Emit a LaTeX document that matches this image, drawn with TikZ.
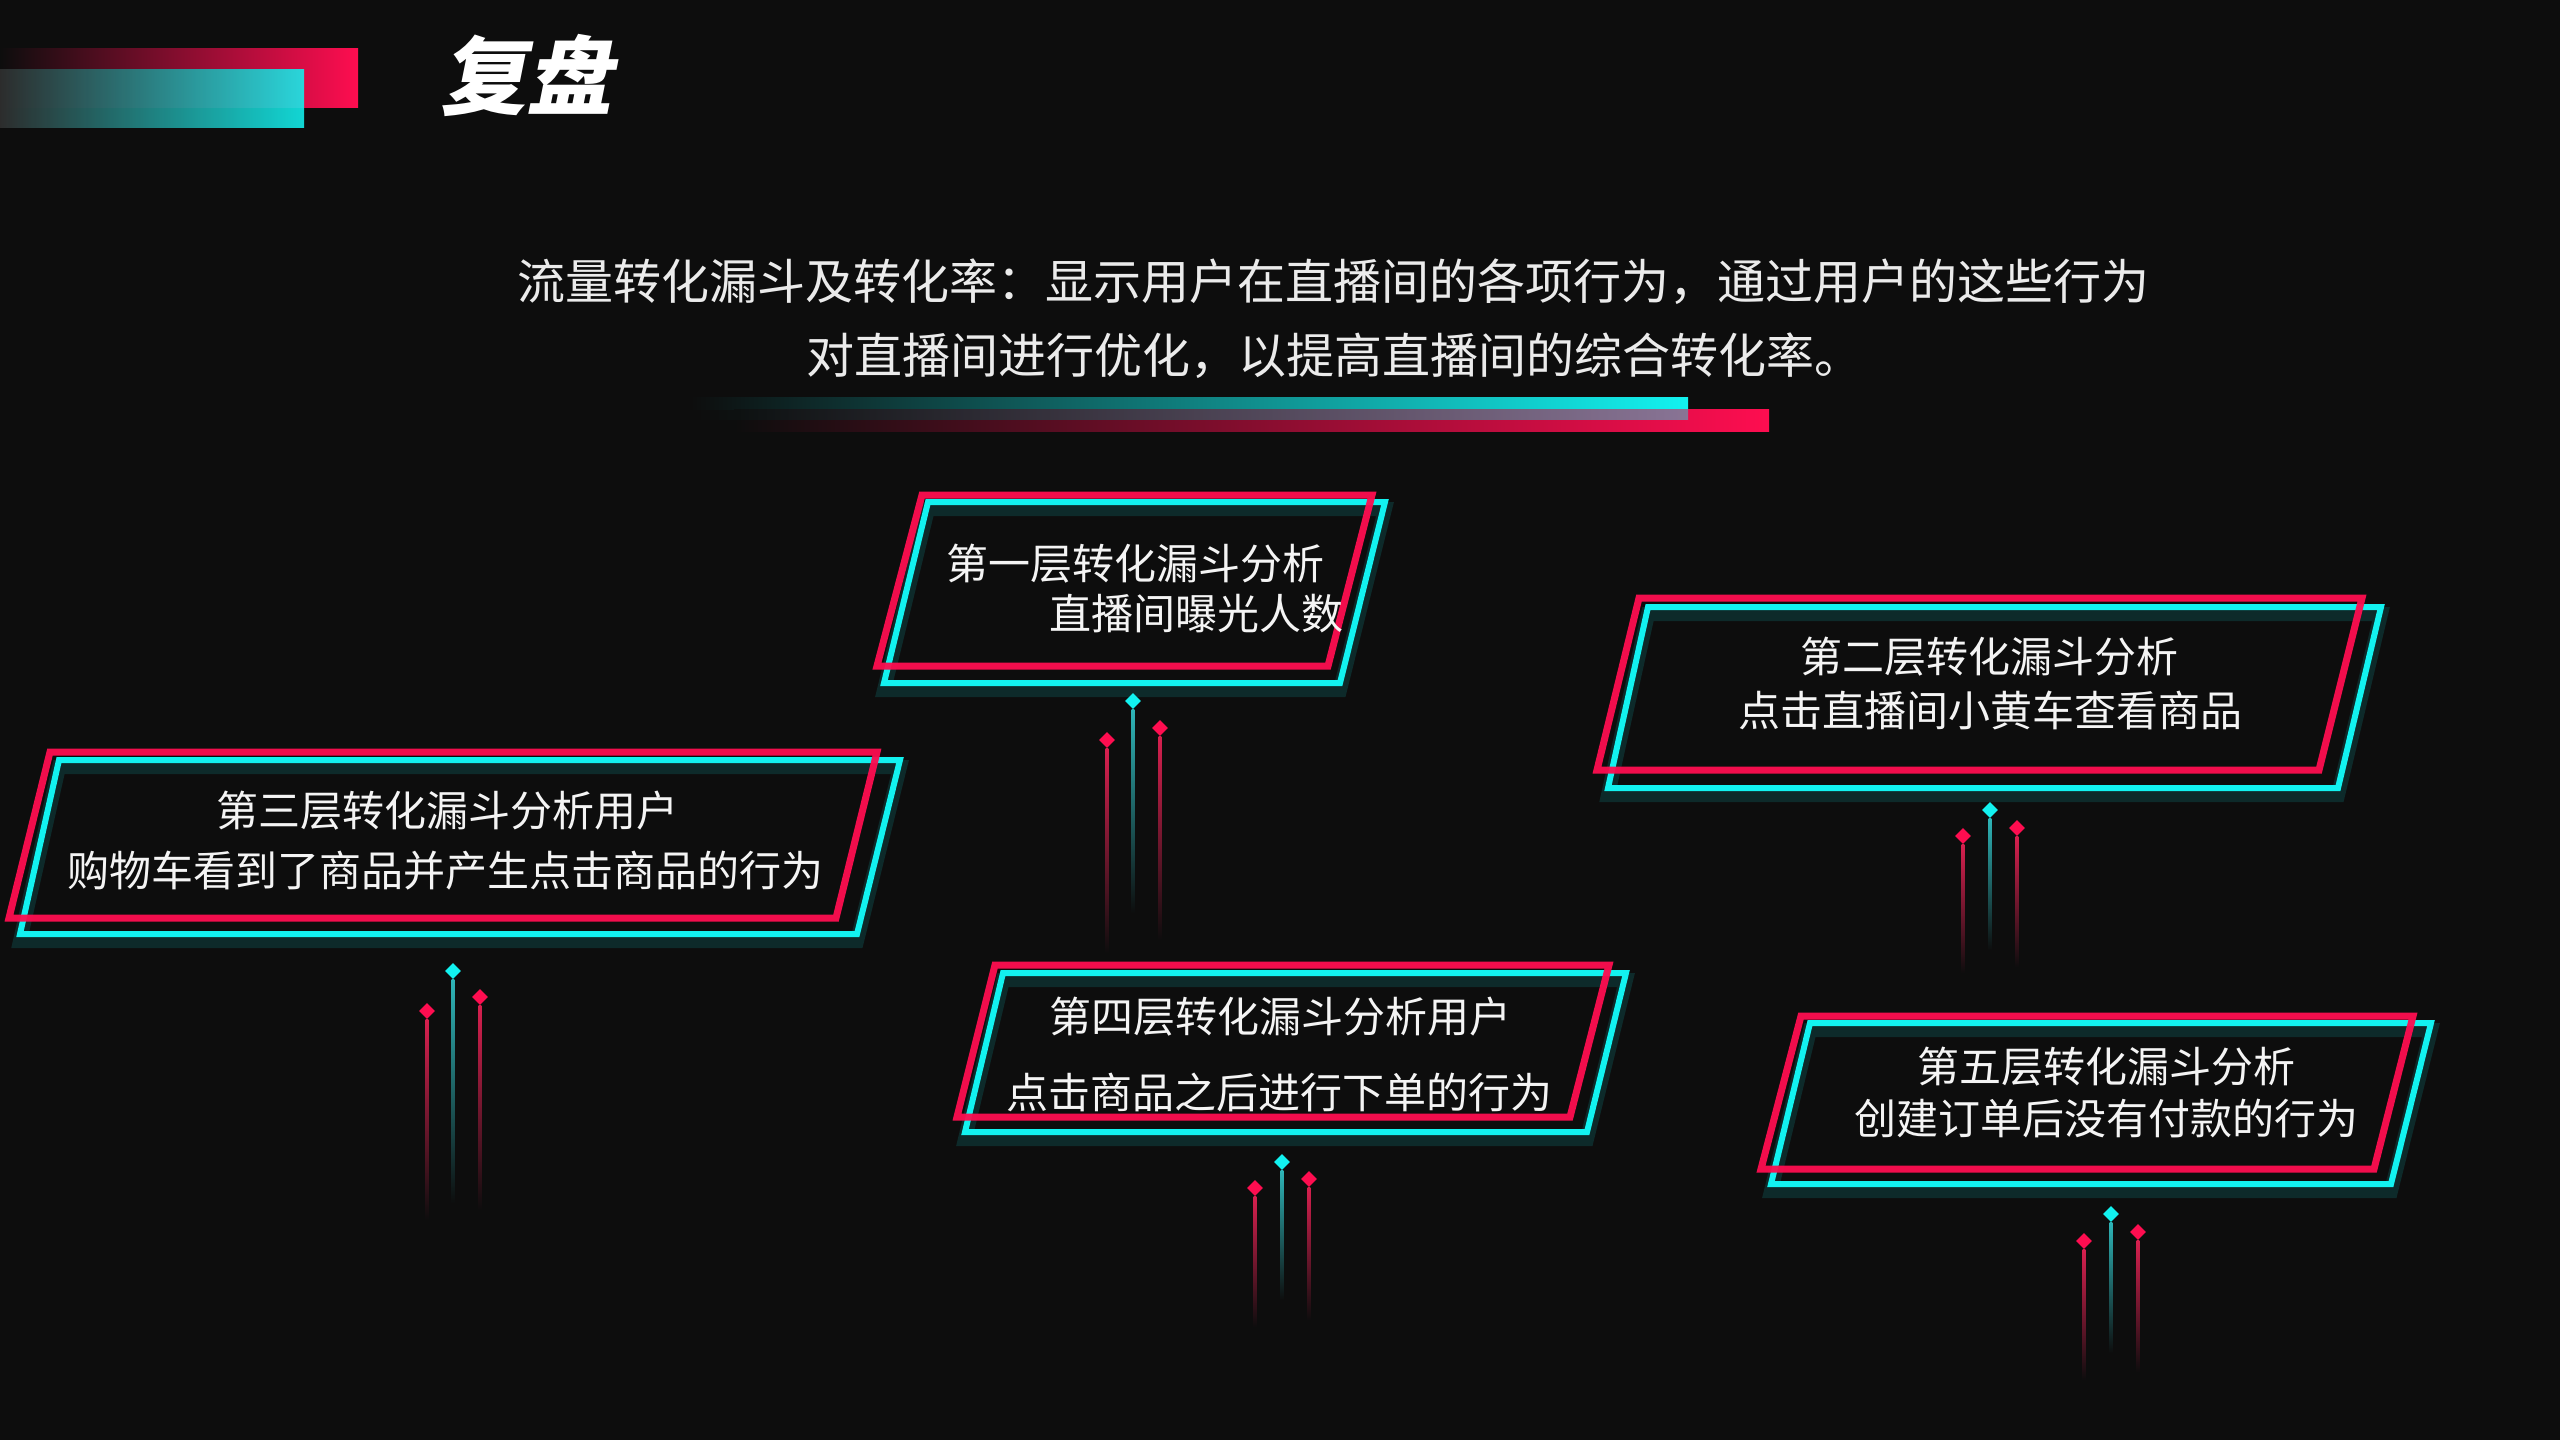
\documentclass[tikz,border=0pt]{standalone}
\usepackage{fontspec}
\setmainfont{Noto Sans CJK SC}
\newfontfamily\titlefont[FakeSlant=0.2]{Noto Sans CJK SC}
\usetikzlibrary{shapes.geometric,calc}
\definecolor{bg}{HTML}{0D0D0D}
\definecolor{tred}{HTML}{FE0D50}
\definecolor{tcyan}{HTML}{12F2F0}
\definecolor{lred}{HTML}{D8204F}
\definecolor{lcyan}{HTML}{2EB5B8}
\definecolor{txt}{HTML}{F4F4F4}
\newcommand{\pin}[6]{%
  \node[#5] (#1) at (#2,#3) {};
  \coordinate (#1e) at (#2,#4);
  \shade[top color=#6, bottom color=bg] ($(#1.south)+(-1.3,0)$) rectangle ($(#1e)+(1.3,0)$);
}
\begin{document}
\begin{tikzpicture}[x=0.5pt,y=-0.5pt,
  redframe/.style={draw=tred, line width=3.5pt, opacity=0.95},
  cyanframe/.style={draw=tcyan, line width=3pt},
  glow/.style={draw=tcyan, line width=7pt, opacity=0.13},
  boxtext/.style={text=txt, font=\fontsize{21}{25}\selectfont, inner sep=0pt, text height=18.5pt, text depth=2.5pt},
  subtext/.style={text=txt!92!gray, font=\fontsize{24}{29}\selectfont, inner sep=0pt, text height=21.1pt, text depth=2.9pt, anchor=west},
  titletext/.style={text=white, font=\fontsize{43}{50}\selectfont, inner sep=0pt, text height=37.8pt, text depth=5.2pt},
  cdia/.style={diamond, fill=tcyan, inner sep=0pt, minimum width=8pt, minimum height=8pt},
  rdia/.style={diamond, fill=tred, inner sep=0pt, minimum width=8pt, minimum height=8pt},
]
\useasboundingbox (0,0) rectangle (2560,1440);
\fill[bg] (0,0) rectangle (2560,1440);

% header bars
\shade[left color=bg, right color=tred] (0,48) rectangle (358,107);
\shade[left color=bg!85!white, right color=tcyan, opacity=0.88] (0,69) rectangle (304,127);
\node[titletext] (title) at (526,76) {\titlefont\bfseries 复盘};

% subtitle
\node[subtext] (sub1) at (517,281) {流量转化漏斗及转化率：显示用户在直播间的各项行为，通过用户的这些行为};
\node[subtext] (sub2) at (806,355) {对直播间进行优化，以提高直播间的综合转化率。};
\shade[left color=bg, right color=tcyan] (690,397) rectangle (1688,409);
\shade[left color=bg, right color=tred] (734,409) rectangle (1769,431);
\shade[left color=bg, right color=tcyan, opacity=0.45] (690,409) rectangle (1688,419);

% box 1
\draw[glow] (928,509) -- (1385,509) -- (1340,690) -- (884,690) -- cycle;
\draw[cyanframe] (928,502) -- (1385,502) -- (1340,683) -- (884,683) -- cycle;
\draw[redframe] (922,495) -- (1372,495) -- (1328,666) -- (877,666) -- cycle;
\node[boxtext] (t1a) at (1135,563) {第一层转化漏斗分析};
\node[boxtext] (t1b) at (1196,613) {直播间曝光人数};

% box 2
\draw[glow] (1648,614) -- (2381,614) -- (2338,795) -- (1608,795) -- cycle;
\draw[cyanframe] (1648,607) -- (2381,607) -- (2338,788) -- (1608,788) -- cycle;
\draw[redframe] (1639,598) -- (2362,598) -- (2319,770) -- (1597,770) -- cycle;
\node[boxtext] (t2a) at (1989,656) {第二层转化漏斗分析};
\node[boxtext] (t2b) at (1990,710) {点击直播间小黄车查看商品};

% box 3
\draw[glow] (59,767) -- (900,767) -- (857,941) -- (20,941) -- cycle;
\draw[cyanframe] (59,760) -- (900,760) -- (857,934) -- (20,934) -- cycle;
\draw[redframe] (50,752) -- (877,752) -- (836,918) -- (9,918) -- cycle;
\node[boxtext] (t3a) at (447,810) {第三层转化漏斗分析用户};
\node[boxtext] (t3b) at (446,870) {购物车看到了商品并产生点击商品的行为};

% box 4
\draw[glow] (1003,980) -- (1626,980) -- (1587,1139) -- (965,1139) -- cycle;
\draw[cyanframe] (1003,973) -- (1626,973) -- (1587,1132) -- (965,1132) -- cycle;
\draw[redframe] (995,965) -- (1609,965) -- (1570,1117) -- (957,1117) -- cycle;
\node[boxtext] (t4a) at (1280,1016) {第四层转化漏斗分析用户};
\node[boxtext] (t4b) at (1279,1092) {点击商品之后进行下单的行为};

% box 5
\draw[glow] (1810,1030) -- (2431,1030) -- (2391,1191) -- (1771,1191) -- cycle;
\draw[cyanframe] (1810,1023) -- (2431,1023) -- (2391,1184) -- (1771,1184) -- cycle;
\draw[redframe] (1801,1016) -- (2413,1016) -- (2374,1169) -- (1761,1169) -- cycle;
\node[boxtext] (t5a) at (2106,1066) {第五层转化漏斗分析};
\node[boxtext] (t5b) at (2106,1118) {创建订单后没有付款的行为};

% pins
\pin{c1}{1133}{701}{913}{cdia}{lcyan}
\pin{l1}{1107}{740}{953}{rdia}{lred}
\pin{r1}{1160}{728}{940}{rdia}{lred}

\pin{c2}{1990}{810}{950}{cdia}{lcyan}
\pin{l2}{1963}{836}{973}{rdia}{lred}
\pin{r2}{2017}{828}{967}{rdia}{lred}

\pin{c3}{453}{971}{1203}{cdia}{lcyan}
\pin{l3}{427}{1011}{1220}{rdia}{lred}
\pin{r3}{480}{997}{1210}{rdia}{lred}

\pin{c4}{1282}{1162}{1300}{cdia}{lcyan}
\pin{l4}{1255}{1188}{1327}{rdia}{lred}
\pin{r4}{1309}{1179}{1320}{rdia}{lred}

\pin{c5}{2111}{1214}{1353}{cdia}{lcyan}
\pin{l5}{2084}{1241}{1380}{rdia}{lred}
\pin{r5}{2138}{1232}{1372}{rdia}{lred}
\end{tikzpicture}
\end{document}
